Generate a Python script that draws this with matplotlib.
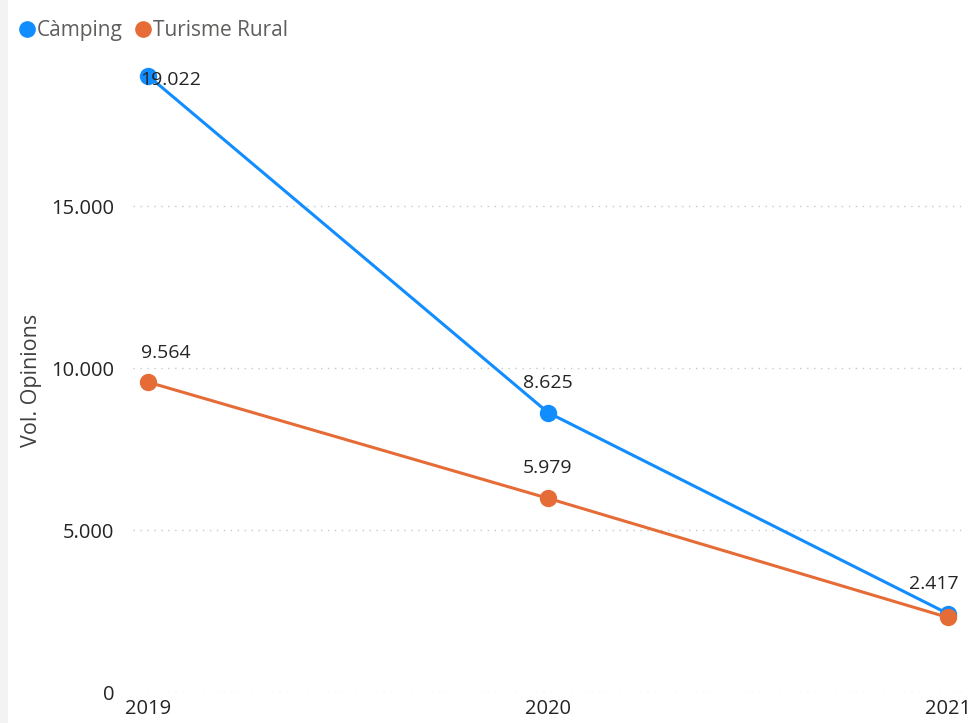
import matplotlib
matplotlib.use("Agg")
import matplotlib.pyplot as plt
from matplotlib.lines import Line2D
from matplotlib.patches import Rectangle
from matplotlib.ticker import FuncFormatter

plt.rcParams['font.family'] = ['Open Sans', 'DejaVu Sans']

years = ["2019", "2020", "2021"]
camping = [19022, 8625, 2417]
rural = [9564, 5979, 2300]
series_names = ["Càmping", "Turisme Rural"]
colors = ["#118DFF", "#E66C37"]
y_ticks = [0, 5000, 10000, 15000]

W, H = 976, 723
fig = plt.figure(figsize=(W / 100, H / 100), dpi=100)
fig.patch.set_facecolor("white")
fig.add_artist(Rectangle((0, 0), 8 / W, 1, transform=fig.transFigure,
                         facecolor="#F3F3F3", edgecolor="none"))

left, right, top, bottom = 133, 962, 60, 692
ax = fig.add_axes([left / W, (H - bottom) / H, (right - left) / W, (bottom - top) / H])
ax.set_facecolor("white")
for s in ax.spines.values():
    s.set_visible(False)

x = list(range(len(years)))
ax.set_xlim(-15 / 400, 2 + 14 / 400)
ax.set_ylim(0, (bottom - top) / 0.0324)

for vals, c in zip([camping, rural], colors):
    ax.plot(x, vals, color=c, lw=2.2, marker="o", markersize=11.5, zorder=3,
            solid_capstyle="round")

ax.set_yticks(y_ticks)
ax.yaxis.set_major_formatter(FuncFormatter(lambda v, p: f"{int(v):,}".replace(",", ".")))
ax.set_xticks(x)
ax.set_xticklabels(years)
ax.tick_params(axis="both", length=0, labelsize=14.5, labelcolor="#252423")
ax.tick_params(axis="x", pad=5)
ax.tick_params(axis="y", pad=13.5)
ax.grid(axis="y", color="#C8C8C8", linestyle=(0, (1, 4)), lw=1)
ax.set_axisbelow(True)
ax.set_ylabel("Vol. Opinions", fontsize=15.5, color="#404040")
ax.yaxis.set_label_coords((42 - left) / (right - left), (bottom - 380) / (bottom - top))

def fmt(v):
    return f"{v:,}".replace(",", ".")

# label offsets in points (dx, dy)
cam_off = [(16, -3), (0, 21.5), (-10, 21.5)]
rur_off = [(13, 21), (0, 22), None]
for vals, offs in [(camping, cam_off), (rural, rur_off)]:
    for xi, v, o in zip(x, vals, offs):
        if o is None:
            continue
        ax.annotate(fmt(v), (xi, v), xytext=o, textcoords="offset points",
                    ha="center", va="center", fontsize=14, color="#252423", zorder=4)

handles = [Line2D([], [], color=c, marker="o", linestyle="none", markersize=11) for c in colors]
fig.legend(handles, series_names, loc="upper left", bbox_to_anchor=(6 / W, 1 - 12 / H),
           ncol=2, frameon=False, fontsize=15, handletextpad=-0.1, columnspacing=0.35,
           handlelength=1.2, borderaxespad=0, labelcolor="#605E5C")

fig.savefig("out.png", dpi=100, facecolor="white")
